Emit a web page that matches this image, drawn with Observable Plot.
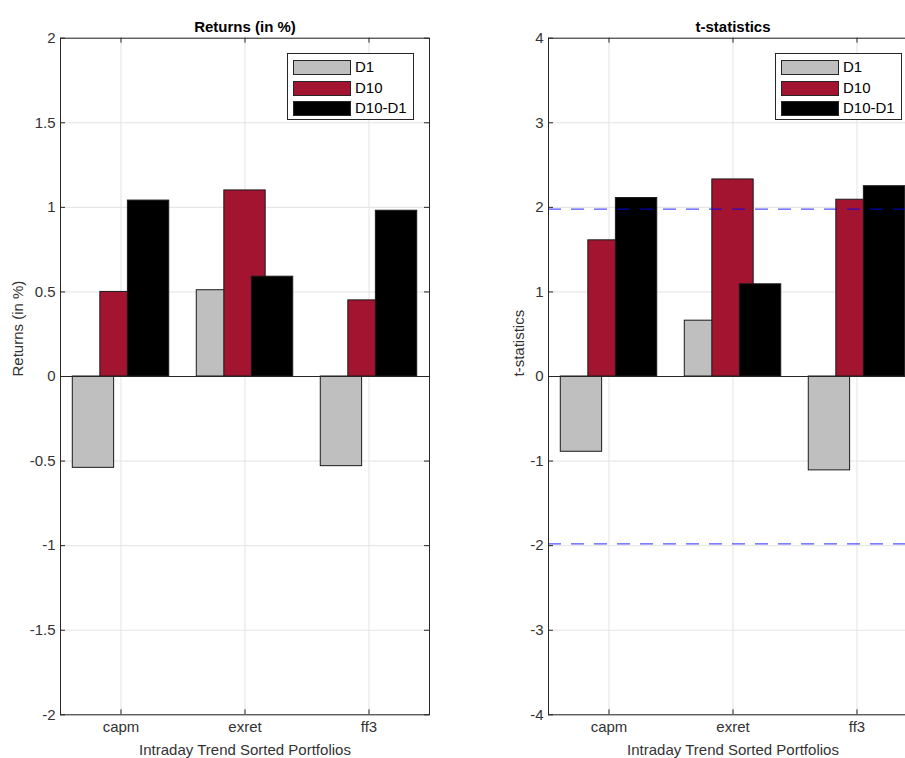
<!DOCTYPE html>
<html>
<head>
<meta charset="utf-8">
<script src="https://cdn.jsdelivr.net/npm/d3@7"></script>
<script src="https://cdn.jsdelivr.net/npm/@observablehq/plot@0.6"></script>
<style>
  html, body { margin: 0; padding: 0; background: #fff; }
  body { width: 905px; height: 758px; overflow: hidden; position: relative; font-family: "Liberation Sans", Arial, Helvetica, sans-serif; }
  .panel { position: absolute; top: 0; height: 758px; }
  .panel svg { max-width: none !important; display: block; }
  .legend { position: absolute; background: #fff; border: 1px solid #262626; box-sizing: border-box; width: 127px; height: 67px; }
  .legend .row { position: absolute; left: 5px; height: 16px; display: flex; align-items: center; }
  .legend .sw { width: 58px; height: 15px; border: 1px solid #262626; box-sizing: border-box; flex: none; }
  .legend .lab { margin-left: 4px; font-size: 15px; color: #000; line-height: 16px; white-space: nowrap; }
</style>
</head>
<body>
<div id="left" class="panel" style="left:0px; width:450px;"></div>
<div id="right" class="panel" style="left:488px; width:489px;"></div>
<script>
// ---- data ----
const categories = ["capm", "exret", "ff3"];
const series = ["D1", "D10", "D10-D1"];
const seriesColors = ["#bfbfbf", "#a2142f", "#000000"];

const returnsD1 = [-0.54, 0.51, -0.53];
const returnsD10 = [0.50, 1.10, 0.45];
const returnsDiff = [1.04, 0.59, 0.98];

const tstatD1 = [-0.89, 0.66, -1.11];
const tstatD10 = [1.61, 2.33, 2.09];
const tstatDiff = [2.11, 1.09, 2.25];

const returnTicks = [-2, -1.5, -1, -0.5, 0, 0.5, 1, 1.5, 2];
const tstatTicks = [-4, -3, -2, -1, 0, 1, 2, 3, 4];
const criticalT = [1.98, -1.98];

const xTitle = "Intraday Trend Sorted Portfolios";

// ---- layout constants ----
const H = 758;
const mTop = 37.7, mBottom = H - 714.3;
const mLeft = 60;
const plotW = 369;
const plotH = H - mTop - mBottom;
const groupStep = 0.2222;   // offset between bars within a group (x units)
const barHalf = 0.1667;     // half bar width (x units)
const gridColor = "#e3e3e3";
const axisColor = "#262626";

function panel({values, ticks, title, ylabel, ylabelDx, refLines, width, mRight}) {
  const rows = series.flatMap((s, si) => categories.map((c, ci) => ({series: s, si, ci, value: values[si][ci]})));
  const xTicks = categories.map((c, i) => i + 1);
  const marks = [
    Plot.ruleX(xTicks, {stroke: gridColor}),
    Plot.ruleY(ticks, {stroke: gridColor}),
    Plot.rectY(rows, {
      x1: d => d.ci + 1 + (d.si - 1) * groupStep - barHalf,
      x2: d => d.ci + 1 + (d.si - 1) * groupStep + barHalf,
      y1: 0, y2: "value", fill: "series", stroke: "#1a1a1a", strokeWidth: 1
    }),
    Plot.ruleY([0], {stroke: axisColor, strokeWidth: 1})
  ];
  if (refLines) marks.push(Plot.ruleY(refLines, {stroke: "#0000ff", strokeOpacity: 0.68, strokeWidth: 1.2, strokeDasharray: "13,10"}));
  marks.push(
    Plot.ruleY(ticks, {insetRight: plotW - 5, stroke: axisColor}),
    Plot.ruleY(ticks, {insetLeft: plotW - 5, stroke: axisColor}),
    Plot.ruleX(xTicks, {insetTop: plotH - 5, stroke: axisColor}),
    Plot.ruleX(xTicks, {insetBottom: plotH - 5, stroke: axisColor}),
    Plot.frame({stroke: axisColor, strokeWidth: 1}),
    Plot.axisY({ticks, tickSize: 0, tickPadding: 5, tickFormat: d => String(d), label: null, fill: "#333"}),
    Plot.axisX({ticks: xTicks, tickSize: 0, tickPadding: 7, tickFormat: d => categories[d - 1], label: null, fill: "#333"}),
    Plot.text([title], {text: d => d, frameAnchor: "top", dy: -11, fontWeight: "bold", fill: "#000", lineAnchor: "middle"}),
    Plot.text([ylabel], {text: d => d, frameAnchor: "left", rotate: -90, dx: ylabelDx, fill: "#333", lineAnchor: "middle"}),
    Plot.text([xTitle], {text: d => d, frameAnchor: "bottom", dy: 35, fill: "#333", lineAnchor: "middle"})
  );
  return Plot.plot({
    width, height: H,
    marginTop: mTop, marginBottom: mBottom, marginLeft: mLeft, marginRight: mRight,
    x: {domain: [0.512, 3.488], axis: null},
    y: {domain: [ticks[0], ticks[ticks.length - 1]], axis: null},
    color: {domain: series, range: seriesColors},
    style: {fontFamily: "'Liberation Sans', Arial, Helvetica, sans-serif", fontSize: "15px", background: "transparent", overflow: "visible", maxWidth: "none"},
    marks
  });
}

function legend(container, left) {
  const box = document.createElement("div");
  box.className = "legend";
  box.style.left = left + "px";
  box.style.top = "53px";
  const rowTops = [5, 26, 46];
  series.forEach((s, i) => {
    const row = document.createElement("div");
    row.className = "row";
    row.style.top = rowTops[i] + "px";
    const sw = document.createElement("div");
    sw.className = "sw";
    sw.style.background = seriesColors[i];
    const lab = document.createElement("span");
    lab.className = "lab";
    lab.textContent = s;
    row.appendChild(sw); row.appendChild(lab);
    box.appendChild(row);
  });
  container.appendChild(box);
}

const leftEl = document.getElementById("left");
leftEl.appendChild(panel({
  values: [returnsD1, returnsD10, returnsDiff], ticks: returnTicks,
  title: "Returns (in %)", ylabel: "Returns (in %)", ylabelDx: -42,
  width: 450, mRight: 450 - mLeft - plotW
}));
legend(leftEl, mLeft + plotW - 142);

const rightEl = document.getElementById("right");
rightEl.appendChild(panel({
  values: [tstatD1, tstatD10, tstatDiff], ticks: tstatTicks,
  title: "t-statistics", ylabel: "t-statistics", ylabelDx: -29, refLines: criticalT,
  width: 489, mRight: 489 - mLeft - plotW
}));
legend(rightEl, mLeft + plotW - 142);
</script>
</body>
</html>
